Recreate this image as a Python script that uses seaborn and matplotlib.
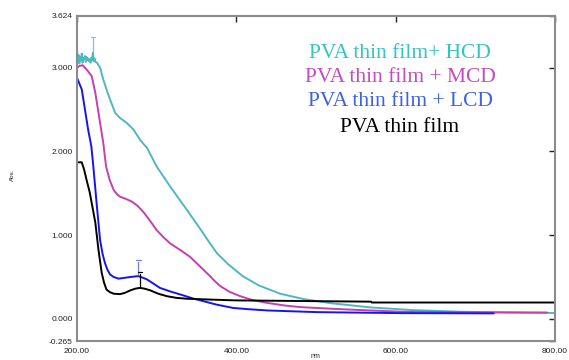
import matplotlib
matplotlib.use("Agg")
import matplotlib.pyplot as plt
import seaborn as sns
import pandas as pd

# wavelength (nm) / absorbance values
hcd_nm = [200, 201, 202, 203, 204, 205, 206, 207, 208, 209, 210, 211, 212, 213, 214, 215, 216, 217, 218, 219,
          220, 221, 222, 223, 225, 229, 233, 237, 241.5, 248, 254, 262.5, 271, 279, 288, 300, 317, 338, 355,
          367, 376, 390, 408, 428, 455, 485, 520, 570, 620, 680, 740, 800]
hcd_abs = [3.21, 3.08, 3.15, 3.05, 3.13, 3.09, 3.17, 3.06, 3.12, 3.10, 3.14, 3.07, 3.13, 3.09, 3.11, 3.08, 3.10,
           3.06, 3.12, 3.09, 3.18, 3.08, 3.11, 3.07, 3.06, 3.00, 2.86, 2.74, 2.62, 2.46, 2.40, 2.34, 2.26, 2.14,
           2.04, 1.82, 1.58, 1.30, 1.07, 0.90, 0.78, 0.65, 0.51, 0.40, 0.30, 0.235, 0.185, 0.135, 0.105, 0.085,
           0.075, 0.07]

mcd_nm = [200, 203, 207, 212, 218.5, 223, 227, 231, 233, 236.5, 241, 246, 250, 254, 262, 269, 276, 283, 291,
          300, 308, 317, 330, 342, 355, 367, 373, 380, 392, 405, 420, 439, 460, 480, 510, 543, 606, 700, 790]
mcd_abs = [3.00, 3.02, 3.03, 2.98, 2.90, 2.70, 2.46, 2.22, 2.10, 1.82, 1.66, 1.54, 1.49, 1.46, 1.43, 1.40,
           1.35, 1.28, 1.18, 1.06, 0.98, 0.90, 0.82, 0.74, 0.62, 0.51, 0.45, 0.39, 0.32, 0.27, 0.225, 0.19,
           0.16, 0.14, 0.125, 0.11, 0.085, 0.078, 0.075]

lcd_nm = [200, 206, 210, 214, 218, 220.5, 225, 229, 232, 235, 238, 241.5, 246, 252, 260, 267, 277, 283, 288,
          296, 304, 316, 330, 345, 355, 375, 396, 415, 439, 470, 501, 606, 723]
lcd_abs = [2.88, 2.74, 2.50, 2.26, 2.06, 1.82, 1.34, 0.94, 0.78, 0.67, 0.59, 0.53, 0.50, 0.48, 0.49, 0.50,
           0.51, 0.49, 0.47, 0.42, 0.37, 0.33, 0.29, 0.245, 0.22, 0.17, 0.13, 0.115, 0.10, 0.09, 0.08, 0.068,
           0.065]

pva_nm = [200, 206, 209, 212, 216, 219.5, 223, 227, 231, 234, 237, 241, 246, 254, 260, 267, 273, 279, 285,
          292, 302, 313, 325, 338, 367, 400, 569, 570, 800]
pva_abs = [1.87, 1.87, 1.78, 1.66, 1.51, 1.33, 1.15, 0.82, 0.55, 0.43, 0.35, 0.32, 0.30, 0.295, 0.31, 0.34,
           0.36, 0.37, 0.36, 0.34, 0.30, 0.27, 0.25, 0.24, 0.23, 0.22, 0.205, 0.195, 0.195]

labels = ["PVA thin film+ HCD", "PVA thin film + MCD", "PVA thin film + LCD", "PVA thin film"]
line_colors = ["#4db8c2", "#c53fb0", "#1414f5", "#000000"]
text_colors = ["#33c4c4", "#c44cc0", "#3f63dd", "#000000"]

# peak picks marked on the spectra
peak_nm = [220, 277, 279]
peak_abs = [3.18, 0.51, 0.37]
peak_colors = ["#7cc8d0", "#6f7ef5", "#000000"]

x_ticks = [200, 400, 600, 800]
y_ticks = [-0.265, 0, 1, 2, 3, 3.624]

sns.set_style("white")
plt.rcParams['font.family'] = ['Liberation Sans', 'DejaVu Sans']

fig = plt.figure(figsize=(5.69, 3.6), dpi=100)
ax = fig.add_axes([77 / 569, 1 - 341 / 360, 478 / 569, 325.5 / 360])

series = [(hcd_nm, hcd_abs), (mcd_nm, mcd_abs), (lcd_nm, lcd_abs), (pva_nm, pva_abs)]
for (xs, ys), col in zip(series, line_colors):
    df = pd.DataFrame({"nm": xs, "abs": ys})
    sns.lineplot(data=df, x="nm", y="abs", color=col, linewidth=1.4, ax=ax, sort=False,
                 estimator=None)

# peak markers
for px, py, pc in zip(peak_nm, peak_abs, peak_colors):
    ax.plot([px, px], [py + 0.02, py + 0.17], color=pc, linewidth=0.9)
    ax.plot([px - 3, px + 3], [py + 0.19, py + 0.19], color=pc, linewidth=0.9)

ax.set_xlim(200, 800)
ax.set_ylim(-0.265, 3.624)
ax.set_xticks(x_ticks)
ax.set_xticklabels([f"{v:.2f}" for v in x_ticks])
ax.set_yticks(y_ticks)
ax.set_yticklabels([f"{v:.3f}" for v in y_ticks])
ax.tick_params(direction="in", length=4, width=1, labelsize=6, colors="#222222",
               top=True, right=True, pad=3)
ax.tick_params(axis="x", pad=5)
for s in ax.spines.values():
    s.set_color("#8c8c8c")
    s.set_linewidth(1.5)
ax.set_xlabel("")
ax.set_ylabel("")

fig.text(12 / 569, 1 - 175 / 360, "Abs.", rotation=90, fontsize=4.5, ha="center", va="center")
fig.text(315 / 569, 1 - 356 / 360, "nm", fontsize=5, ha="center", va="center")

ys_text = [53, 77, 102, 127]
for lab, tc, yt in zip(labels, text_colors, ys_text):
    fig.text(400 / 569, 1 - yt / 360, lab, color=tc, fontsize=15.5, family=['Liberation Serif'],
             ha="center", va="center")

fig.savefig("out.png", dpi=100)
